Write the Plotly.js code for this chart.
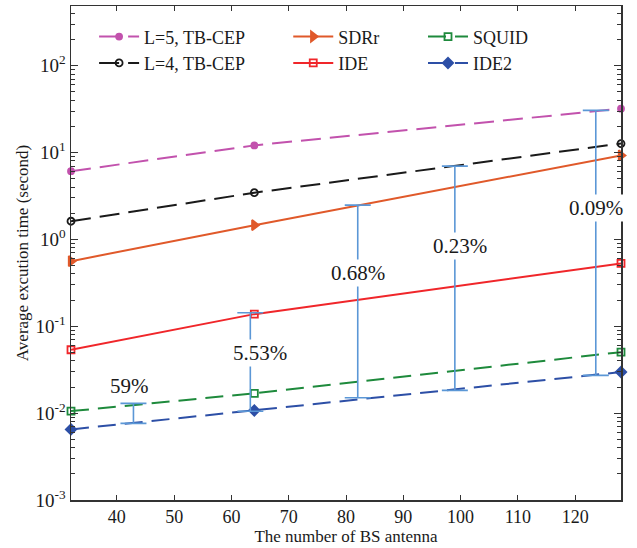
<!DOCTYPE html>
<html>
<head>
<meta charset="utf-8">
<script src="https://cdn.plot.ly/plotly-3.0.1.min.js"></script>
<style>html,body{margin:0;padding:0;background:#fff;}#chart{width:637px;height:548px;}</style>
</head>
<body>
<div id="chart"></div>
<script>
// ---- data ----
const antennas = [32, 64, 128];
const tbcepL5 = [6.1, 12.1, 32.0];
const tbcepL4 = [1.62, 3.45, 12.7];
const sdrr    = [0.562, 1.46, 9.27];
const ide     = [0.0537, 0.138, 0.53];
const squid   = [0.01055, 0.0169, 0.0504];
const ide2    = [0.0065, 0.01075, 0.0297];

const gapX      = [42.9, 63.3, 82.05, 99.0, 123.6];
const gapTop    = [0.01294, 0.1432, 2.48, 6.98, 30.6];
const gapBottom = [0.00762, 0.01052, 0.01503, 0.01827, 0.0272];
const gapLabels = ['59%', '5.53%', '0.68%', '0.23%', '0.09%'];
const labelX    = [42.2, 65.0, 82.1, 99.9, 123.7];
const labelY    = [0.0203, 0.0488, 0.406, 0.838, 2.32];

const xTicks = [40, 50, 60, 70, 80, 90, 100, 110, 120];
const yTickVals = [0.001, 0.01, 0.1, 1, 10, 100];
const yTickText = ['10<sup>-3</sup>', '10<sup>-2</sup>', '10<sup>-1</sup>', '10<sup>0</sup>', '10<sup>1</sup>', '10<sup>2</sup>'];

const FONT = '"Liberation Serif", "Times New Roman", serif';

function series(name, y, color, dash, symbol, size, legend) {
  return {
    x: antennas, y: y, name: name, type: 'scatter', mode: 'lines+markers',
    line: {color: color, width: 2, dash: dash},
    marker: {symbol: symbol, size: size, color: color, line: {color: color, width: 1.8}},
    cliponaxis: false,
    legend: legend
  };
}

const traces = [
  series('L=5, TB-CEP', tbcepL5, '#c252ad', '20px,9px', 'circle', 6, 'legend'),
  series('L=4, TB-CEP', tbcepL4, '#1a1a1a', '20px,9px', 'circle-open', 7, 'legend'),
  series('SDRr', sdrr, '#e0592a', 'solid', 'triangle-right', 9, 'legend2'),
  series('IDE', ide, '#f0262a', 'solid', 'square-open', 7, 'legend2'),
  series('SQUID', squid, '#1e8a3c', '18px,9px', 'square-open', 7, 'legend3'),
  series('IDE2', ide2, '#2d4fa6', '18px,9px', 'diamond', 8, 'legend3'),
  {
    x: gapX, y: gapBottom, type: 'scatter', mode: 'markers', showlegend: false,
    marker: {size: 1, color: 'rgba(0,0,0,0)'},
    error_y: {
      type: 'data', symmetric: false,
      array: gapTop.map((t, i) => t - gapBottom[i]),
      arrayminus: gapBottom.map(() => 0),
      color: '#5b97d6', thickness: 1.6, width: 13
    },
    hoverinfo: 'skip'
  }
];

const annotations = gapLabels.map((t, i) => ({
  x: labelX[i], y: Math.log10(labelY[i]), xref: 'x', yref: 'y',
  text: t, showarrow: false, bgcolor: '#ffffff', borderpad: 1,
  font: {family: FONT, size: 21, color: '#1a1a1a'}
}));

const legendCommon = {
  orientation: 'v', bgcolor: 'rgba(0,0,0,0)', borderwidth: 0,
  font: {family: FONT, size: 18, color: '#1a1a1a'},
  xanchor: 'left', yanchor: 'top', itemwidth: 40, tracegroupgap: 0
};

const layout = {
  width: 637, height: 548,
  margin: {l: 71, r: 16, t: 6, b: 48},
  paper_bgcolor: '#ffffff', plot_bgcolor: '#ffffff',
  showlegend: true,
  font: {family: FONT, color: '#1a1a1a'},
  xaxis: {
    range: [32, 128], tickvals: xTicks, ticktext: xTicks.map(String),
    ticks: 'inside', ticklen: 5, tickcolor: '#333', tickwidth: 1,
    showline: true, linecolor: '#333', linewidth: 1.5, mirror: 'allticks',
    showgrid: false, zeroline: false,
    tickfont: {family: FONT, size: 18, color: '#1a1a1a'},
    title: {text: 'The number of BS antenna', font: {family: FONT, size: 17, color: '#1a1a1a'}, standoff: 4}
  },
  yaxis: {
    type: 'log', range: [-3, Math.log10(487)],
    tickvals: yTickVals, ticktext: yTickText,
    ticks: 'inside', ticklen: 7, tickcolor: '#333', tickwidth: 1,
    minor: {ticks: 'inside', ticklen: 4, dtick: 'D1', tickcolor: '#333', tickwidth: 1, showgrid: false},
    showline: true, linecolor: '#333', linewidth: 1.5, mirror: 'allticks',
    showgrid: false, zeroline: false,
    tickfont: {family: FONT, size: 19, color: '#1a1a1a'},
    title: {text: 'Average excution time (second)', font: {family: FONT, size: 17, color: '#1a1a1a'}, standoff: 2}
  },
  legend: Object.assign({}, legendCommon, {x: 0.042, y: 0.975}),
  legend2: Object.assign({}, legendCommon, {x: 0.395, y: 0.975}),
  legend3: Object.assign({}, legendCommon, {x: 0.64, y: 0.975}),
  annotations: annotations
};

Plotly.newPlot('chart', traces, layout, {displayModeBar: false, staticPlot: true});
</script>
</body>
</html>
